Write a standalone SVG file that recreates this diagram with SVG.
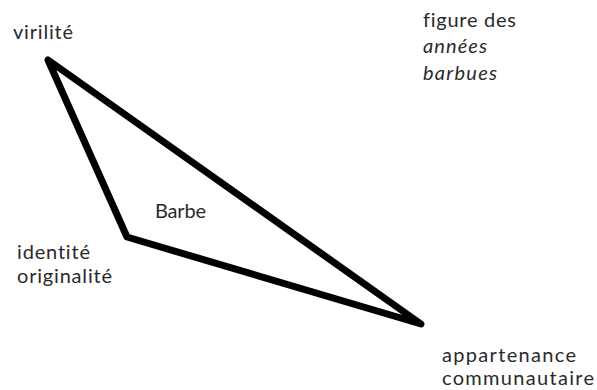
<svg xmlns="http://www.w3.org/2000/svg" width="597" height="390" viewBox="0 0 597 390">
<style>
.t{font-family:Lato,"Open Sans","Liberation Sans",sans-serif;font-size:20px;fill:#2a2a2a;font-variant-ligatures:none}
.i{font-style:italic}
.edge{fill:none;stroke:#000;stroke-width:7;stroke-linejoin:round;stroke-linecap:round}
</style>
<rect width="597" height="390" fill="#fff"/>
<g id="connectors">
<polygon class="edge" points="48,60 127,237 421,324"/>
</g>
<g id="virilite"><text class="t" x="13" y="39" textLength="60">virilité</text></g>
<g id="figure"><text class="t" x="423" y="27" textLength="93">figure des</text><text class="t i" x="423" y="53" textLength="64">années</text><text class="t i" x="423" y="80" textLength="74">barbues</text></g>
<g id="barbe"><text class="t" x="155" y="218" textLength="51">Barbe</text></g>
<g id="identite"><text class="t" x="17" y="259" textLength="73">identité</text><text class="t" x="17" y="283" textLength="95">originalité</text></g>
<g id="appartenance"><text class="t" x="442" y="362" textLength="134">appartenance</text><text class="t" x="442" y="385" textLength="152">communautaire</text></g>
</svg>
